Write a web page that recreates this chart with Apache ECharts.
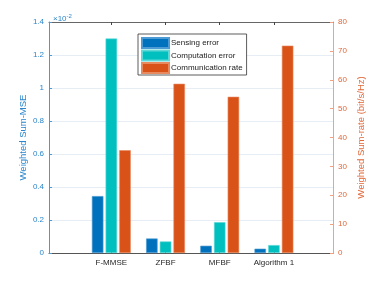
<!DOCTYPE html>
<html>
<head>
<meta charset="utf-8">
<script src="https://cdn.jsdelivr.net/npm/echarts@6/dist/echarts.min.js"></script>
<style>html,body{margin:0;padding:0;background:#fff}#c{width:374px;height:284px}</style>
</head>
<body>
<div id="c"></div>
<script>
var categories = ['F-MMSE', 'ZFBF', 'MFBF', 'Algorithm 1'];
var categoryPos = [1, 2, 3, 4];
var sensingError = [0.345, 0.088, 0.044, 0.026];      // x 10^-2
var computationError = [1.30, 0.07, 0.187, 0.048];    // x 10^-2
var communicationRate = [35.6, 58.6, 54.1, 71.8];     // bit/s/Hz
var leftTicks = [0, 0.2, 0.4, 0.6, 0.8, 1, 1.2, 1.4];
var rightTicks = [0, 10, 20, 30, 40, 50, 60, 70, 80];

function pairs(vals) { return vals.map(function (v, i) { return [categoryPos[i], v]; }); }

var FONT = 'Liberation Sans, Arial, Helvetica, sans-serif';
var chart = echarts.init(document.getElementById('c'));
var xCommon = {
  type: 'value', min: -0.15, max: 5.09,
  splitLine: { show: false }
};
chart.setOption({
  animation: false,
  textStyle: { fontFamily: FONT },
  grid: { left: 49, right: 37, top: 22, bottom: 31 },
  title: {
    text: '×10{s|-2}', left: 48, top: 8,
    textStyle: { fontSize: 8, fontWeight: 'normal', color: '#2b86cc', fontFamily: FONT,
      rich: { s: { fontSize: 6, color: '#2b86cc', padding: [0, 0, 6, 0] } } }
  },
  legend: {
    orient: 'vertical', left: 138, top: 34,
    data: ['Sensing error', 'Computation error', 'Communication rate'],
    itemWidth: 27, itemHeight: 10, itemGap: 0.5,
    padding: [3, 4, 1, 3],
    borderColor: '#333', borderWidth: 0.8, backgroundColor: '#fff',
    icon: 'rect',
    textStyle: { fontSize: 8, lineHeight: 10, color: '#222', fontFamily: FONT, padding: [0, 0, 0, -3] }
  },
  xAxis: [
    Object.assign({}, xCommon, {
      position: 'bottom',
      axisLine: { show: true, onZero: false, lineStyle: { color: '#555', width: 1 } },
      axisTick: { show: true, inside: true, length: 3, customValues: categoryPos, lineStyle: { color: '#444' } },
      axisLabel: { show: true, customValues: categoryPos, fontSize: 8, color: '#262626', margin: 6,
        formatter: function (v) { var i = categoryPos.indexOf(v); return i >= 0 ? categories[i] : ''; } }
    }),
    Object.assign({}, xCommon, {
      position: 'top',
      axisLine: { show: true, onZero: false, lineStyle: { color: '#666', width: 1 } },
      axisTick: { show: true, inside: true, length: 3, customValues: categoryPos, lineStyle: { color: '#444' } },
      axisLabel: { show: false }
    })
  ],
  yAxis: [
    {
      type: 'value', min: 0, max: 1.4, interval: 0.2, position: 'left',
      name: 'Weighted Sum-MSE', nameLocation: 'middle', nameGap: 21, nameMoveOverlap: false,
      nameTextStyle: { fontSize: 9.5, color: '#2b86cc', fontFamily: FONT },
      axisLine: { show: true, onZero: false, lineStyle: { color: '#4a9ad6', width: 1 } },
      axisTick: { show: true, inside: true, length: 3, lineStyle: { color: '#4a9ad6' } },
      axisLabel: { fontSize: 8, color: '#2b86cc', margin: 5 },
      splitLine: { show: true, lineStyle: { color: '#e6edf4', width: 1 } }
    },
    {
      type: 'value', min: 0, max: 80, interval: 10, position: 'right',
      name: 'Weighted Sum-rate (bit/s/Hz)', nameLocation: 'middle', nameGap: 23, nameMoveOverlap: false,
      nameTextStyle: { fontSize: 9.5, color: '#e0683a', fontFamily: FONT },
      axisLine: { show: true, onZero: false, lineStyle: { color: '#f0a283', width: 1 } },
      axisTick: { show: true, inside: true, length: 3, lineStyle: { color: '#f0a283' } },
      axisLabel: { fontSize: 8, color: '#e0683a', margin: 5 },
      splitLine: { show: false }
    }
  ],
  series: [
    { name: 'Sensing error', type: 'bar', xAxisIndex: 0, yAxisIndex: 0, data: pairs(sensingError),
      barWidth: 11.5, barGap: '19%',
      itemStyle: { color: '#0072BD', borderColor: '#4d9ad4', borderWidth: 0.6 } },
    { name: 'Computation error', type: 'bar', xAxisIndex: 0, yAxisIndex: 0, data: pairs(computationError),
      barWidth: 11.5, barGap: '19%',
      itemStyle: { color: '#00BFBF', borderColor: '#5fd8d8', borderWidth: 0.6 } },
    { name: 'Communication rate', type: 'bar', xAxisIndex: 0, yAxisIndex: 1, data: pairs(communicationRate),
      barWidth: 11.5, barGap: '19%',
      itemStyle: { color: '#D95319', borderColor: '#e88a60', borderWidth: 0.6 } }
  ]
});
</script>
</body>
</html>
